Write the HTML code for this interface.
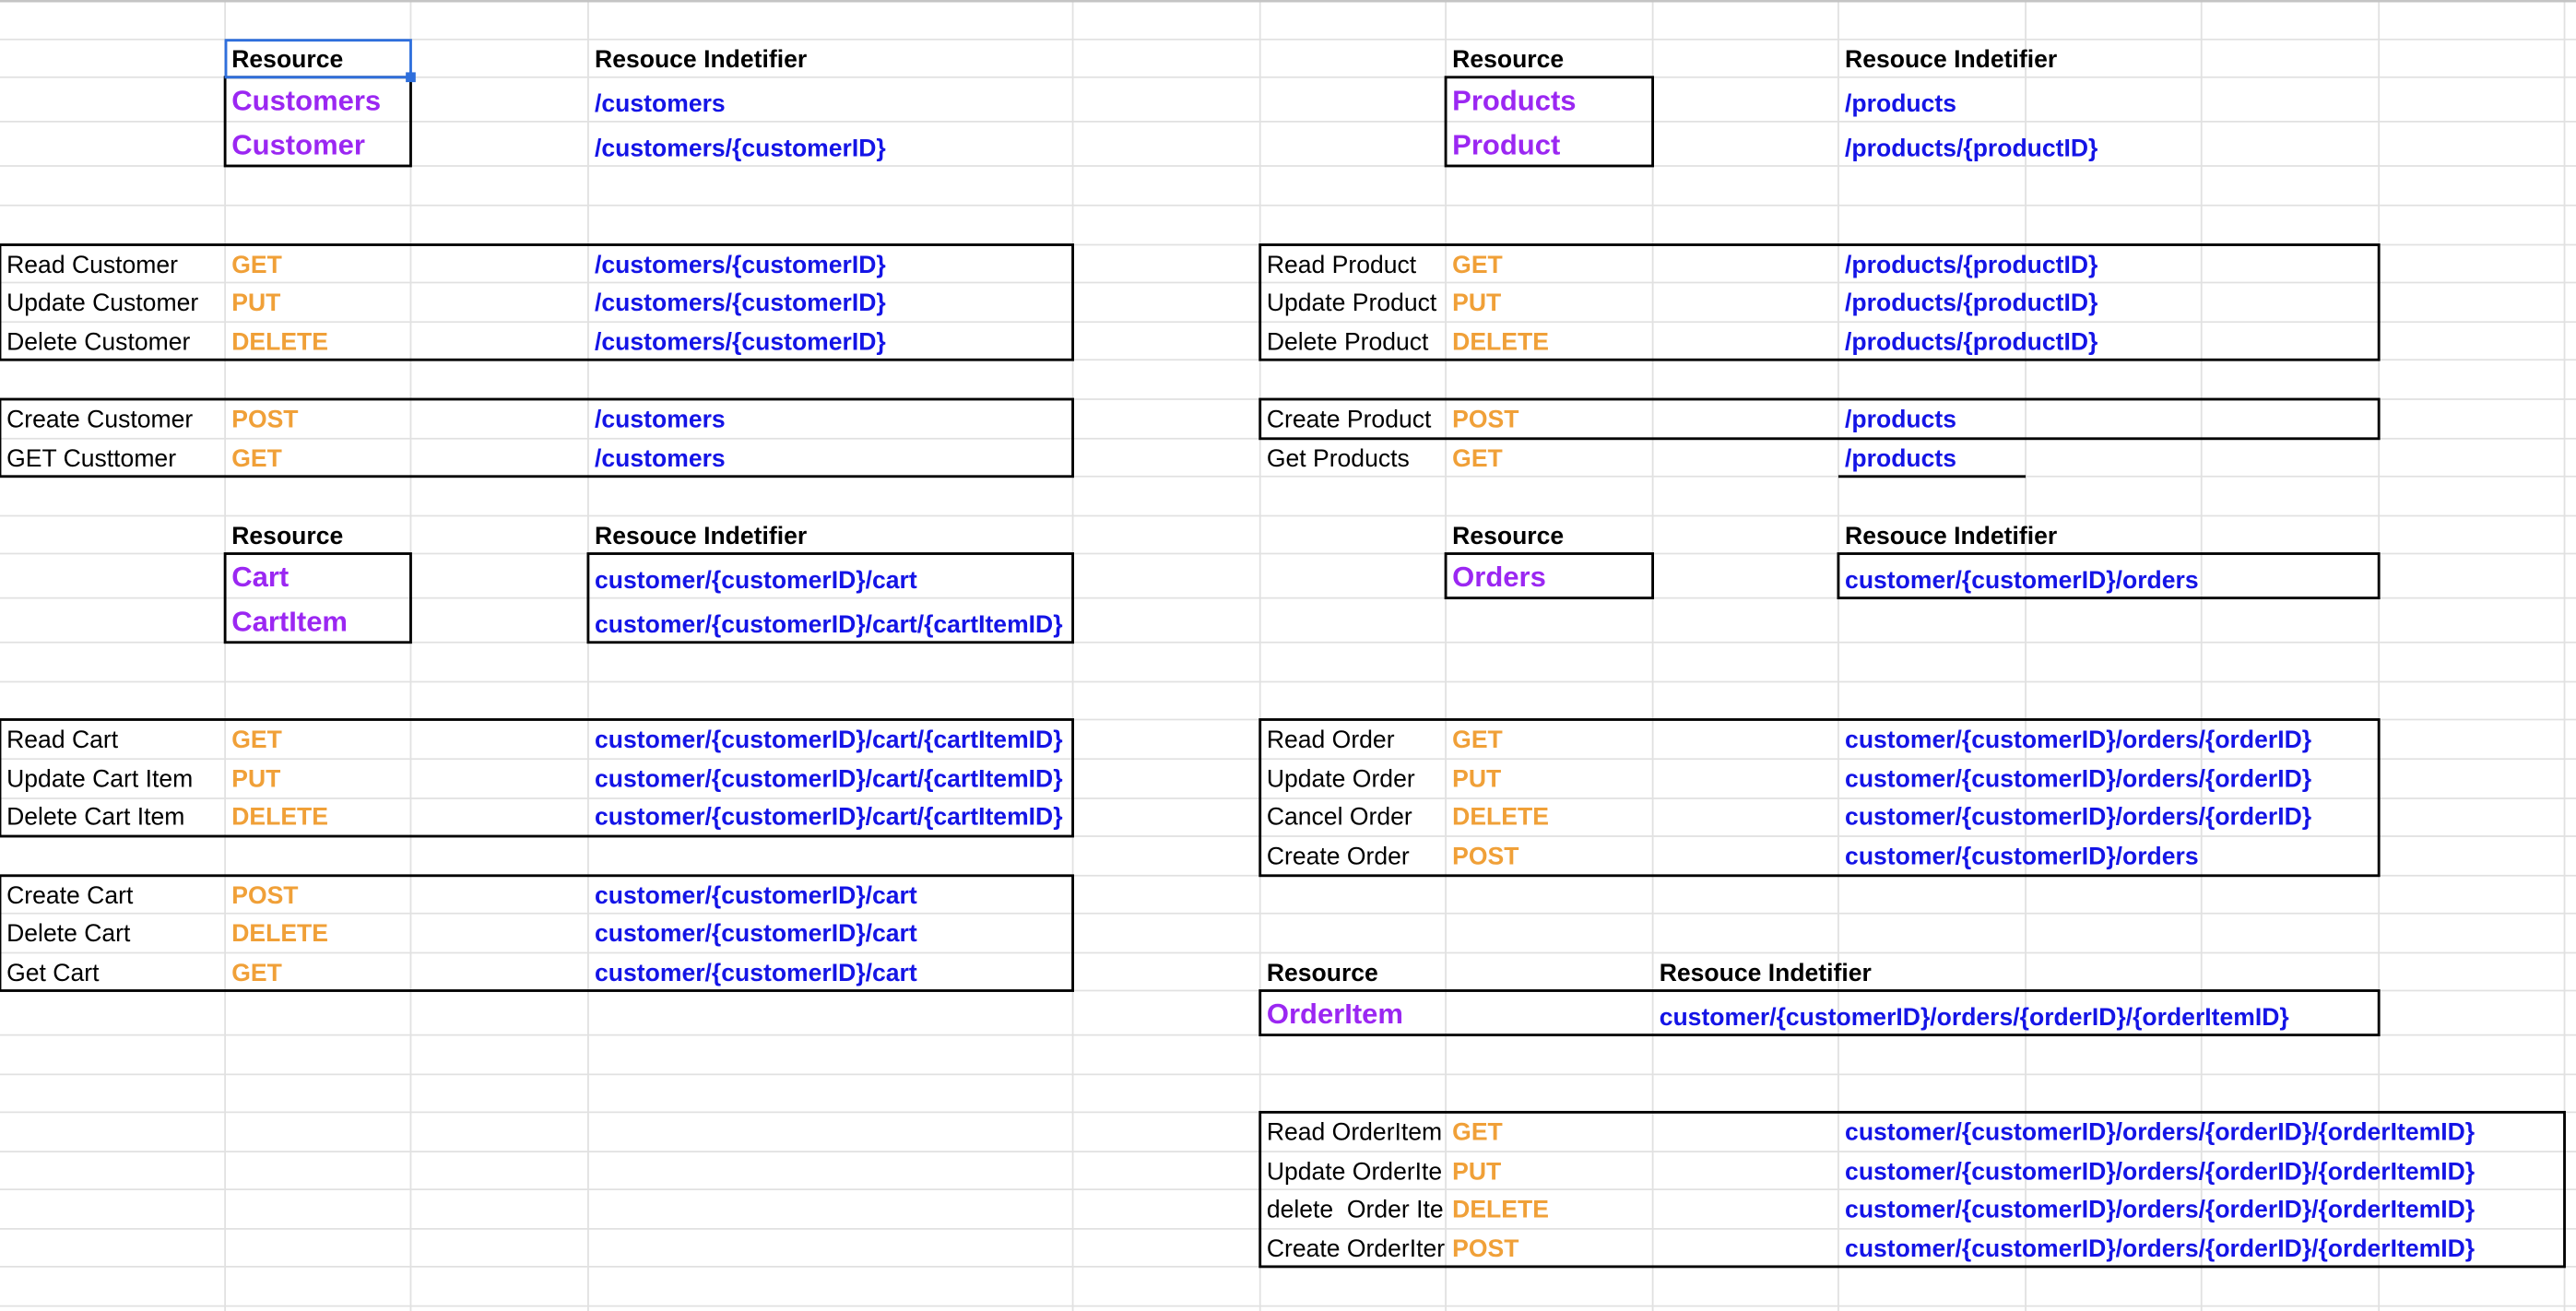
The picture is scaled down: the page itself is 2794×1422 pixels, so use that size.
<!DOCTYPE html>
<html><head><meta charset="utf-8"><style>
html,body{margin:0;padding:0;background:#fff;width:2794px;height:1422px;overflow:hidden}
svg{display:block}
text{font-family:"Liberation Sans",Arial,sans-serif;font-size:14.9px}
.k{fill:#000}
.h{fill:#000;font-weight:bold}
.p{fill:#9b27f2;font-weight:bold;font-size:17.4px}
.o{fill:#f0a038;font-weight:bold}
.b{fill:#1414e6;font-weight:bold}
.g line{stroke:#e1e1e1;stroke-width:1}
.bx{fill:none;stroke:#000;stroke-width:1.6}
</style></head><body>
<svg width="2794" height="1422" viewBox="0 0 1568 798" preserveAspectRatio="none" xmlns="http://www.w3.org/2000/svg">
<g class="g">
<line x1="137" y1="0" x2="137" y2="798"/><line x1="250" y1="0" x2="250" y2="798"/><line x1="358" y1="0" x2="358" y2="798"/><line x1="653" y1="0" x2="653" y2="798"/><line x1="767" y1="0" x2="767" y2="798"/><line x1="880" y1="0" x2="880" y2="798"/><line x1="1006" y1="0" x2="1006" y2="798"/><line x1="1119" y1="0" x2="1119" y2="798"/><line x1="1233" y1="0" x2="1233" y2="798"/><line x1="1340" y1="0" x2="1340" y2="798"/><line x1="1448" y1="0" x2="1448" y2="798"/><line x1="1561" y1="0" x2="1561" y2="798"/>
<line x1="0" y1="24" x2="1568" y2="24"/><line x1="0" y1="47" x2="1568" y2="47"/><line x1="0" y1="74" x2="1568" y2="74"/><line x1="0" y1="101" x2="1568" y2="101"/><line x1="0" y1="125" x2="1568" y2="125"/><line x1="0" y1="149" x2="1568" y2="149"/><line x1="0" y1="172" x2="1568" y2="172"/><line x1="0" y1="196" x2="1568" y2="196"/><line x1="0" y1="219" x2="1568" y2="219"/><line x1="0" y1="243" x2="1568" y2="243"/><line x1="0" y1="267" x2="1568" y2="267"/><line x1="0" y1="290" x2="1568" y2="290"/><line x1="0" y1="314" x2="1568" y2="314"/><line x1="0" y1="337" x2="1568" y2="337"/><line x1="0" y1="364" x2="1568" y2="364"/><line x1="0" y1="391" x2="1568" y2="391"/><line x1="0" y1="415" x2="1568" y2="415"/><line x1="0" y1="438" x2="1568" y2="438"/><line x1="0" y1="462" x2="1568" y2="462"/><line x1="0" y1="486" x2="1568" y2="486"/><line x1="0" y1="509" x2="1568" y2="509"/><line x1="0" y1="533" x2="1568" y2="533"/><line x1="0" y1="556" x2="1568" y2="556"/><line x1="0" y1="580" x2="1568" y2="580"/><line x1="0" y1="603" x2="1568" y2="603"/><line x1="0" y1="630" x2="1568" y2="630"/><line x1="0" y1="654" x2="1568" y2="654"/><line x1="0" y1="677" x2="1568" y2="677"/><line x1="0" y1="701" x2="1568" y2="701"/><line x1="0" y1="724" x2="1568" y2="724"/><line x1="0" y1="748" x2="1568" y2="748"/><line x1="0" y1="771" x2="1568" y2="771"/><line x1="0" y1="795" x2="1568" y2="795"/>
</g>
<line x1="0" y1="0.7" x2="1568" y2="0.7" stroke="#c4c4c4" stroke-width="1.4"/>
<rect class="bx" x="137" y="47" width="113" height="54"/>
<rect x="137.5" y="24.5" width="112.5" height="22.5" fill="none" stroke="#2f6fdc" stroke-width="1.6"/>
<rect x="247" y="44" width="6" height="6" fill="#2f6fdc"/>
<rect class="bx" x="0" y="149" width="653" height="70"/>
<rect class="bx" x="0" y="243" width="653" height="47"/>
<rect class="bx" x="137" y="337" width="113" height="54"/>
<rect class="bx" x="358" y="337" width="295" height="54"/>
<rect class="bx" x="0" y="438" width="653" height="71"/>
<rect class="bx" x="0" y="533" width="653" height="70"/>
<rect class="bx" x="880" y="47" width="126" height="54"/>
<rect class="bx" x="767" y="149" width="681" height="70"/>
<rect class="bx" x="767" y="243" width="681" height="24"/>
<line x1="1119" y1="290" x2="1233" y2="290" stroke="#000" stroke-width="1.6"/>
<rect class="bx" x="880" y="337" width="126" height="27"/>
<rect class="bx" x="1119" y="337" width="329" height="27"/>
<rect class="bx" x="767" y="438" width="681" height="95"/>
<rect class="bx" x="767" y="603" width="681" height="27"/>
<rect class="bx" x="767" y="677" width="794" height="94"/>
<text class="h" x="141" y="41">Resource</text><text class="h" x="362" y="41">Resouce Indetifier</text>
<text class="p" x="141" y="67">Customers</text><text class="b" x="362" y="68">/customers</text>
<text class="p" x="141" y="94">Customer</text><text class="b" x="362" y="95">/customers/{customerID}</text>
<text class="k" x="4" y="166">Read Customer</text><text class="o" x="141" y="166">GET</text><text class="b" x="362" y="166">/customers/{customerID}</text>
<text class="k" x="4" y="189">Update Customer</text><text class="o" x="141" y="189">PUT</text><text class="b" x="362" y="189">/customers/{customerID}</text>
<text class="k" x="4" y="213">Delete Customer</text><text class="o" x="141" y="213">DELETE</text><text class="b" x="362" y="213">/customers/{customerID}</text>
<text class="k" x="4" y="260">Create Customer</text><text class="o" x="141" y="260">POST</text><text class="b" x="362" y="260">/customers</text>
<text class="k" x="4" y="284">GET Custtomer</text><text class="o" x="141" y="284">GET</text><text class="b" x="362" y="284">/customers</text>
<text class="h" x="141" y="331">Resource</text><text class="h" x="362" y="331">Resouce Indetifier</text>
<text class="p" x="141" y="357">Cart</text><text class="b" x="362" y="358">customer/{customerID}/cart</text>
<text class="p" x="141" y="384">CartItem</text><text class="b" x="362" y="385">customer/{customerID}/cart/{cartItemID}</text>
<text class="k" x="4" y="455">Read Cart</text><text class="o" x="141" y="455">GET</text><text class="b" x="362" y="455">customer/{customerID}/cart/{cartItemID}</text>
<text class="k" x="4" y="479">Update Cart Item</text><text class="o" x="141" y="479">PUT</text><text class="b" x="362" y="479">customer/{customerID}/cart/{cartItemID}</text>
<text class="k" x="4" y="502">Delete Cart Item</text><text class="o" x="141" y="502">DELETE</text><text class="b" x="362" y="502">customer/{customerID}/cart/{cartItemID}</text>
<text class="k" x="4" y="550">Create Cart</text><text class="o" x="141" y="550">POST</text><text class="b" x="362" y="550">customer/{customerID}/cart</text>
<text class="k" x="4" y="573">Delete Cart</text><text class="o" x="141" y="573">DELETE</text><text class="b" x="362" y="573">customer/{customerID}/cart</text>
<text class="k" x="4" y="597">Get Cart</text><text class="o" x="141" y="597">GET</text><text class="b" x="362" y="597">customer/{customerID}/cart</text>
<text class="h" x="884" y="41">Resource</text><text class="h" x="1123" y="41">Resouce Indetifier</text>
<text class="p" x="884" y="67">Products</text><text class="b" x="1123" y="68">/products</text>
<text class="p" x="884" y="94">Product</text><text class="b" x="1123" y="95">/products/{productID}</text>
<text class="k" x="771" y="166">Read Product</text><text class="o" x="884" y="166">GET</text><text class="b" x="1123" y="166">/products/{productID}</text>
<text class="k" x="771" y="189">Update Product</text><text class="o" x="884" y="189">PUT</text><text class="b" x="1123" y="189">/products/{productID}</text>
<text class="k" x="771" y="213">Delete Product</text><text class="o" x="884" y="213">DELETE</text><text class="b" x="1123" y="213">/products/{productID}</text>
<text class="k" x="771" y="260">Create Product</text><text class="o" x="884" y="260">POST</text><text class="b" x="1123" y="260">/products</text>
<text class="k" x="771" y="284">Get Products</text><text class="o" x="884" y="284">GET</text><text class="b" x="1123" y="284">/products</text>
<text class="h" x="884" y="331">Resource</text><text class="h" x="1123" y="331">Resouce Indetifier</text>
<text class="p" x="884" y="357">Orders</text><text class="b" x="1123" y="358">customer/{customerID}/orders</text>
<text class="k" x="771" y="455">Read Order</text><text class="o" x="884" y="455">GET</text><text class="b" x="1123" y="455">customer/{customerID}/orders/{orderID}</text>
<text class="k" x="771" y="479">Update Order</text><text class="o" x="884" y="479">PUT</text><text class="b" x="1123" y="479">customer/{customerID}/orders/{orderID}</text>
<text class="k" x="771" y="502">Cancel Order</text><text class="o" x="884" y="502">DELETE</text><text class="b" x="1123" y="502">customer/{customerID}/orders/{orderID}</text>
<text class="k" x="771" y="526">Create Order</text><text class="o" x="884" y="526">POST</text><text class="b" x="1123" y="526">customer/{customerID}/orders</text>
<text class="h" x="771" y="597">Resource</text><text class="h" x="1010" y="597">Resouce Indetifier</text>
<text class="p" x="771" y="623">OrderItem</text><text class="b" x="1010" y="624">customer/{customerID}/orders/{orderID}/{orderItemID}</text>
<text class="k" x="771" y="694">Read OrderItem</text><text class="o" x="884" y="694">GET</text><text class="b" x="1123" y="694">customer/{customerID}/orders/{orderID}/{orderItemID}</text>
<text class="k" x="771" y="718">Update OrderIte</text><text class="o" x="884" y="718">PUT</text><text class="b" x="1123" y="718">customer/{customerID}/orders/{orderID}/{orderItemID}</text>
<text class="k" x="771" y="741">delete&#160; Order Ite</text><text class="o" x="884" y="741">DELETE</text><text class="b" x="1123" y="741">customer/{customerID}/orders/{orderID}/{orderItemID}</text>
<text class="k" x="771" y="765">Create OrderIter</text><text class="o" x="884" y="765">POST</text><text class="b" x="1123" y="765">customer/{customerID}/orders/{orderID}/{orderItemID}</text>
</svg>
</body></html>
